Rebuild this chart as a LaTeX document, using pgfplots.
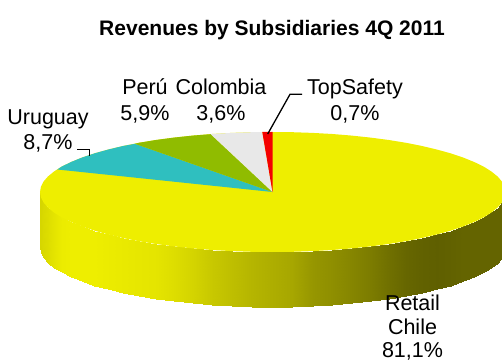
\documentclass[border=0pt]{standalone}
\usepackage{pgfplots}
\pgfplotsset{compat=1.18}
\usepackage{pgfplotstable}
\usepackage{fontspec}
\setmainfont{Liberation Sans}
\definecolor{retail}{RGB}{238,238,0}
\definecolor{uruguay}{RGB}{47,191,191}
\definecolor{peru}{RGB}{144,188,0}
\definecolor{colombia}{RGB}{232,232,232}
\definecolor{topsafety}{RGB}{244,0,0}

% Outer wall of the disc: x, upper rim, lower rim, brightness
\pgfplotstableread{
x y z c
40 192 0 .90
40.9 197.2 0 .90
43.5 202.4 0 .91
47.9 207.5 0 .93
54 212.5 0 .96
61.7 217.4 0 .99
71.1 222 0 1
81.9 226.4 0 1
94.3 230.6 0 1
108 234.4 0 .99
122.9 238 0 .98
138.9 241.2 0 .97
156 244 0 .96
174 246.4 0 .93
192.7 248.4 0 .89
212 250 0 .84
231.7 251.1 0 .80
251.8 251.8 0 .76
272 252 0 .73
292.3 251.8 0 .70
312.6 251.1 0 .63
332.4 250 0 .60
351.8 248.4 0 .56
370.6 246.4 0 .52
388.8 244 0 .47
406 241.2 0 .43
422.1 238 0 .41
437.1 234.4 0 .40
450.9 230.6 0 .41
463.3 226.4 0 .42
474.2 222 0 .42
483.7 217.4 0 .42
491.4 212.5 0 .42
497.6 207.5 0 .42
502 202.4 0 .42
504.6 197.2 0 .42
505.5 192 0 .42
40 247 0 .90
40.9 252.2 0 .90
43.5 257.4 0 .91
47.9 262.5 0 .93
54 267.5 0 .96
61.7 272.4 0 .99
71.1 277 0 1
81.9 281.4 0 1
94.3 285.6 0 1
108 289.4 0 .99
122.9 293 0 .98
138.9 296.2 0 .97
156 299 0 .96
174 301.4 0 .93
192.7 303.4 0 .89
212 305 0 .84
231.7 306.1 0 .80
251.8 306.8 0 .76
272 307 0 .73
292.3 306.8 0 .70
312.6 306.1 0 .63
332.4 305 0 .60
351.8 303.4 0 .56
370.6 301.4 0 .52
388.8 299 0 .47
406 296.2 0 .43
422.1 293 0 .41
437.1 289.4 0 .40
450.9 285.6 0 .41
463.3 281.4 0 .42
474.2 277 0 .42
483.7 272.4 0 .42
491.4 267.5 0 .42
497.6 262.5 0 .42
502 257.4 0 .42
504.6 252.2 0 .42
505.5 247 0 .42
}\wall

\begin{document}
\begin{tikzpicture}
\begin{axis}[
  name=pie,
  scale only axis, width=502pt, height=363pt,
  xmin=0, xmax=502, ymin=0, ymax=363, zmin=-1, zmax=1,
  y dir=reverse, view={0}{90},
  hide axis,
  colormap={wall}{rgb255=(0,0,0) rgb255=(238,238,0)},
  point meta min=0, point meta max=1,
]
% disc wall
\addplot3[surf, shader=interp, mesh/rows=2, mesh/cols=37, point meta=\thisrow{c}] table[x=x, y=y, z=z] {\wall};

% top face, Retail Chile underneath the smaller slices
\addplot3[draw=none, fill=retail] coordinates {
(272,132,0)(292.3,132.2,0)(312.6,132.9,0)(332.4,134,0)(351.8,135.6,0)(370.6,137.6,0)(388.8,140,0)(406,142.8,0)(422.1,146,0)(437.1,149.6,0)(450.9,153.4,0)(463.3,157.6,0)(474.2,162,0)(483.7,166.6,0)(491.4,171.5,0)(497.6,176.5,0)(502,181.6,0)(504.6,186.8,0)(505.5,192,0)
(504.6,197.2,0)(502,202.4,0)(497.6,207.5,0)(491.4,212.5,0)(483.7,217.4,0)(474.2,222,0)(463.3,226.4,0)(450.9,230.6,0)(437.1,234.4,0)(422.1,238,0)(406,241.2,0)(388.8,244,0)(370.6,246.4,0)(351.8,248.4,0)(332.4,250,0)(312.6,251.1,0)(292.3,251.8,0)(272,252,0)
(251.8,251.8,0)(231.7,251.1,0)(212,250,0)(192.7,248.4,0)(174,246.4,0)(156,244,0)(138.9,241.2,0)(122.9,238,0)(108,234.4,0)(94.3,230.6,0)(81.9,226.4,0)(71.1,222,0)(61.7,217.4,0)(54,212.5,0)(47.9,207.5,0)(43.5,202.4,0)(40.9,197.2,0)(40,192,0)
(40.9,186.8,0)(43.5,181.6,0)(47.9,176.5,0)(54,171.5,0)(61.7,166.6,0)(71.1,162,0)(81.9,157.6,0)(94.3,153.4,0)(108,149.6,0)(122.9,146,0)(138.9,142.8,0)(156,140,0)(174,137.6,0)(192.7,135.6,0)(212,134,0)(231.7,132.9,0)(251.8,132.2,0)(272,132,0)};

% Uruguay
\addplot3[draw=none, fill=uruguay] coordinates {
(272.5,192,0)(57.3,169.5,0)(61.7,166.6,0)(71.1,162,0)(81.9,157.6,0)(94.3,153.4,0)(108,149.6,0)(122.9,146,0)(135,143.8,0)(272.5,192,0)};
% Perú
\addplot3[draw=none, fill=peru] coordinates {
(272.5,192,0)(135,143.8,0)(138.9,142.8,0)(156,140,0)(174,137.6,0)(192.7,135.6,0)(210.7,134.2,0)(272.5,192,0)};
% Colombia
\addplot3[draw=none, fill=colombia] coordinates {
(272.5,192,0)(210.7,134.2,0)(212,134,0)(231.7,132.9,0)(251.8,132.2,0)(262.3,132,0)(272.5,192,0)};
% TopSafety
\addplot3[draw=none, fill=topsafety] coordinates {
(272.5,192,0)(262.3,132,0)(272.5,132,0)(272.5,192,0)};

% leader lines
\addplot3[black, line width=1.3pt] coordinates {(77.3,149.3,0)(89.3,149.3,0)(89.3,156,0)};
\addplot3[black, line width=1.3pt] coordinates {(267.7,134,0)(290,94.3,0)(302,94.3,0)};

\node[font=\fontsize{21}{25}\selectfont\bfseries] at (axis cs:272,30.5,0) {Revenues by Subsidiaries 4Q 2011};
\node[font=\fontsize{21.5}{25.5}\selectfont, align=center] at (axis cs:145,101,0) {Perú\\5,9\%};
\node[font=\fontsize{21.5}{25.5}\selectfont, align=center] at (axis cs:221,101,0) {Colombia\\3,6\%};
\node[font=\fontsize{21.5}{25.5}\selectfont, align=center] at (axis cs:355,101,0) {TopSafety\\0,7\%};
\node[font=\fontsize{21.5}{25.5}\selectfont, align=center] at (axis cs:48,131,0) {Uruguay\\8,7\%};
\node[font=\fontsize{21.5}{23.5}\selectfont, align=center] at (axis cs:412.5,328,0) {Retail\\Chile\\81,1\%};
\end{axis}
\pgfresetboundingbox
\path (pie.south west) rectangle (pie.north east);
\end{tikzpicture}
\end{document}
